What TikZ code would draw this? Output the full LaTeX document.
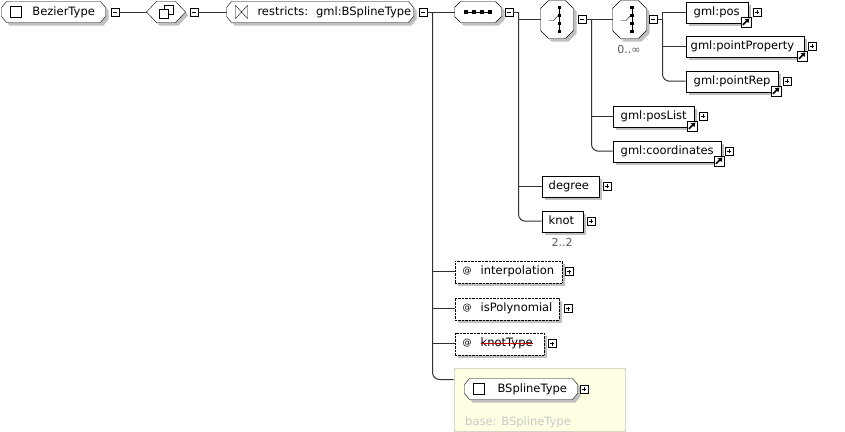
\documentclass[tikz,border=0pt]{standalone}
\usepackage{fontspec}
\setmainfont{DejaVu Sans}
\usetikzlibrary{arrows.meta,positioning}
\definecolor{shadowgray}{RGB}{192,192,192}
\definecolor{panelfill}{RGB}{255,255,228}
\definecolor{panelline}{RGB}{214,214,200}
\definecolor{basegray}{RGB}{200,200,200}
\definecolor{occgray}{RGB}{90,90,90}
\definecolor{linkgray}{RGB}{50,50,50}
\definecolor{strikered}{RGB}{200,0,0}
\pgfdeclarelayer{bg}
\pgfsetlayers{bg,main}

\newcommand\padtext[3]{\makebox[#1][l]{\hspace*{#2}#3}}
\newcommand\attrat{\raisebox{1.5pt}{\fontsize{9}{9}\selectfont @}}
\newsavebox\strikebox
\newcommand\redstrike[1]{\sbox\strikebox{#1}\rlap{\usebox\strikebox}\textcolor{strikered}{\rule[0.2em]{\wd\strikebox}{1.5pt}}}
% chamfered outline with shadow behind a named node: node, x cut, y cut
\newcommand\chamfer[3]{%
  \begin{pgfonlayer}{bg}
  \fill[shadowgray, transform canvas={xshift=3pt,yshift=-3pt}]
    ([shift={(#2,0)}]#1.north west) -- ([shift={(-#2,0)}]#1.north east)
    -- ([shift={(0,#3)}]#1.north east) -- ([shift={(0,-#3)}]#1.south east)
    -- ([shift={(-#2,0)}]#1.south east) -- ([shift={(#2,0)}]#1.south west)
    -- ([shift={(0,-#3)}]#1.south west) -- ([shift={(0,#3)}]#1.north west) -- cycle;
  \draw[fill=white]
    ([shift={(#2,0)}]#1.north west) -- ([shift={(-#2,0)}]#1.north east)
    -- ([shift={(0,#3)}]#1.north east) -- ([shift={(0,-#3)}]#1.south east)
    -- ([shift={(-#2,0)}]#1.south east) -- ([shift={(#2,0)}]#1.south west)
    -- ([shift={(0,-#3)}]#1.south west) -- ([shift={(0,#3)}]#1.north west) -- cycle;
  \end{pgfonlayer}}

\tikzset{
  lbl/.style={font=\fontsize{11.5}{13}\selectfont, text height=9pt, text depth=3pt, inner sep=0pt},
  drop3/.style={preaction={fill=shadowgray, transform canvas={xshift=3pt,yshift=-3pt}}},
  elem/.style={lbl, draw, fill=white, drop3, anchor=north west, minimum height=21pt},
  attr/.style={elem, densely dotted, minimum height=22pt},
  ctype/.style={lbl, anchor=north west, minimum height=21pt, outer sep=0pt},
  cbox/.style={anchor=north west, inner sep=0pt, outer sep=0pt, minimum width=#1},
  pmbox/.style={draw, fill=white, minimum size=8pt, inner sep=0pt, line width=0.8pt},
  minusbox/.style={pmbox, path picture={
    \draw ([xshift=2pt]path picture bounding box.west) -- ([xshift=-2pt]path picture bounding box.east);}},
  plusbox/.style={pmbox, path picture={
    \draw ([xshift=2pt]path picture bounding box.west) -- ([xshift=-2pt]path picture bounding box.east);
    \draw ([yshift=2pt]path picture bounding box.south) -- ([yshift=-2pt]path picture bounding box.north);}},
  linkicon/.style={draw, fill=white, minimum size=10pt, inner sep=0pt, line width=0.8pt, path picture={
    \draw[line width=1.6pt, -{Triangle[length=4pt,width=5pt]}]
      ([shift={(2pt,2pt)}]path picture bounding box.south west) -- ([shift={(-1.5pt,-1.5pt)}]path picture bounding box.north east);}},
  conn/.style={draw=linkgray, line width=1pt},
  occ/.style={font=\fontsize{11}{13}\selectfont, text=occgray, inner sep=0pt}
}

\begin{document}
\begin{tikzpicture}[x=1pt,y=-1pt,line width=1pt]
  \useasboundingbox (0,0) rectangle (845,431);
  \begin{pgfonlayer}{bg}
    \fill[white] (0,0) rectangle (845,431);
  \end{pgfonlayer}

  % top row
  \node[ctype] (bezier) at (1.5,1.5) {\padtext{104pt}{31pt}{BezierType}};
  \chamfer{bezier}{5}{6}
  \draw[fill=white] ([shift={(9,-5.5)}]bezier.west) rectangle ++(11,11);
  \node[minusbox, right=5pt of bezier] (bzmin) {};
  \node[cbox=39pt, minimum height=21pt] (cc) at (146.5,1.5) {};
  \chamfer{cc}{10}{10.5}
  \draw[fill=white] ([shift={(-2,-7)}]cc.center) rectangle ++(9,9);
  \draw[fill=white] ([shift={(-7,-3)}]cc.center) rectangle ++(9,9);
  \node[minusbox, right=4pt of cc] (ccmin) {};
  \node[ctype] (restr) at (226.5,1.5) {\padtext{187pt}{31pt}{restricts:\hspace*{8pt}gml:BSplineType}};
  \chamfer{restr}{5}{6}
  \draw ([shift={(9,-6.5)}]restr.west) -- ([shift={(9,6.5)}]restr.west)
     -- ([shift={(21,-6.5)}]restr.west) -- ([shift={(21,6.5)}]restr.west) -- cycle;
  \node[minusbox, right=5pt of restr] (rmin) {};
  \coordinate (j1) at (432.5,12);

  % sequence
  \node[cbox=47pt, minimum height=21pt] (seq) at (454.5,1.5) {};
  \chamfer{seq}{6}{6}
  \draw ([shift={(-14,0)}]seq.center) -- ([shift={(14,0)}]seq.center);
  \foreach \dx in {-12,-4,4,12}
    \fill ([shift={(\dx,0)}]seq.center) +(-1.7,-1.7) rectangle +(1.7,1.7);
  \node[minusbox, right=3pt of seq] (smin) {};
  \coordinate (j2) at (518.5,12);

  % choices
  \node[cbox=33pt, minimum height=38pt] (ch1) at (540.5,0.5) {};
  \node[minusbox, right=4pt of ch1] (c1min) {};
  \coordinate (j3) at (591.5,19.5);
  \node[cbox=34pt, minimum height=38pt] (ch2) at (612.5,0.5) {};
  \node[minusbox, right=2.5pt of ch2] (c2min) {};
  \coordinate (j4) at (662.5,19.5);
  \node[occ, anchor=base] (ch2occ) at (629,53) {0..∞};
  \foreach \ch in {ch1,ch2} {
    \chamfer{\ch}{8}{8}
    \draw ([shift={(2.5,-13)}]\ch.center) -- ([shift={(2.5,13)}]\ch.center);
    \foreach \dy in {-12,-4,4,12}
      \fill ([shift={(2.5,\dy)}]\ch.center) +(-1.7,-1.7) rectangle +(1.7,1.7);
    \draw ([shift={(-8.5,1)}]\ch.center) -- ([shift={(-3.5,1)}]\ch.center) -- ([shift={(1,-4)}]\ch.center);
  }

  % elements
  \node[elem] (pos) at (685.5,1.5) {\padtext{62pt}{8pt}{gml:pos}};
  \node[elem] (pprop) at (685.5,35.5) {\padtext{118pt}{5pt}{gml:pointProperty}};
  \node[elem] (prep) at (685.5,70.5) {\padtext{92pt}{8pt}{gml:pointRep}};
  \node[elem] (poslist) at (612.5,105.5) {\padtext{81pt}{8pt}{gml:posList}};
  \node[elem] (coords) at (612.5,140.5) {\padtext{108pt}{8pt}{gml:coordinates}};
  \node[elem] (degree) at (541.5,175.5) {\padtext{57pt}{7pt}{degree}};
  \node[elem] (knot) at (541.5,210.5) {\padtext{41pt}{7pt}{knot}};
  \node[occ, anchor=base] (knotocc) at (562,246) {2..2};
  \foreach \el in {pos,pprop,prep,poslist,coords}
    \node[linkicon] (\el link) at ([shift={(-2,-1)}]\el.south east) {};
  \node[plusbox, right=5pt of pos] (posplus) {};
  \node[plusbox, right=4pt of pprop] (pprplus) {};
  \node[plusbox, right=5pt of prep] (prepplus) {};
  \node[plusbox, right=5pt of poslist] (plplus) {};
  \node[plusbox, right=4pt of coords] (coplus) {};
  \node[plusbox, right=4pt of degree] (degplus) {};
  \node[plusbox, right=4pt of knot] (knplus) {};

  % attributes
  \node[attr] (interp) at (454.5,260.5) {\padtext{107pt}{8pt}{\attrat\hspace*{9pt}interpolation}};
  \node[attr] (ispoly) at (454.5,297.5) {\padtext{104pt}{8pt}{\attrat\hspace*{9pt}isPolynomial}};
  \node[attr] (ktype) at (454.5,332.5) {\padtext{89pt}{8pt}{\attrat\hspace*{9pt}\redstrike{knotType}}};
  \node[plusbox, right=3pt of interp] (ipplus) {};
  \node[plusbox, right=5pt of ispoly] (isplus) {};
  \node[plusbox, right=4pt of ktype] (ktplus) {};

  % base type panel
  \begin{pgfonlayer}{bg}
    \node[draw=panelline, fill=panelfill, anchor=north west, inner sep=0pt,
      minimum width=171pt, minimum height=63pt] (panel) at (453.5,367.5) {};
  \end{pgfonlayer}
  \coordinate (bspin) at (453.5,379.5);
  \node[ctype] (bspl) at (464.5,378.5) {\padtext{113pt}{33pt}{BSplineType}};
  \chamfer{bspl}{5}{6}
  \draw[fill=white] ([shift={(9,-5.5)}]bspl.west) rectangle ++(11,11);
  \node[plusbox, right=2pt of bspl] (bsplus) {};
  \node[lbl, text=basegray, anchor=base west] (bsbase) at (465,425) {base: BSplineType};

  % connectors
  \draw[conn] (bzmin) -- (cc);
  \draw[conn] (ccmin) -- (restr);
  \draw[conn] (rmin) -- (seq);
  \draw[conn] (j1) |- (interp.west);
  \draw[conn] (j1) |- (ispoly.west);
  \draw[conn] (j1) |- (ktype.west);
  \draw[conn, rounded corners=7pt] (j1) |- (bspin);
  \draw[conn] (smin) -- (j2);
  \draw[conn] (j2) |- (ch1.west);
  \draw[conn] (j2) |- (degree.west);
  \draw[conn, rounded corners=7pt] (j2) |- (knot.west);
  \draw[conn] (c1min) -- (ch2);
  \draw[conn] (j3) |- (poslist.west);
  \draw[conn, rounded corners=7pt] (j3) |- (coords.west);
  \draw[conn] (c2min) -- (j4);
  \draw[conn] (j4) |- (pos.west);
  \draw[conn] (j4) |- (pprop.west);
  \draw[conn, rounded corners=7pt] (j4) |- (prep.west);
\end{tikzpicture}
\end{document}
